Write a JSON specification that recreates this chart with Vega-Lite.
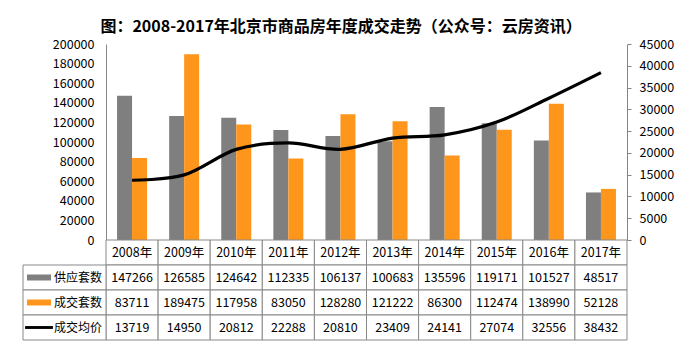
{
  "$schema": "https://vega.github.io/schema/vega-lite/v6.json",
  "background": "white",
  "padding": {"left": 22, "top": 19, "right": 5, "bottom": 2},
  "bounds": "flush",
  "spacing": 0,
  "title": {"text": "图：2008-2017年北京市商品房年度成交走势（公众号：云房资讯）", "font": "Noto Sans CJK SC", "fontSize": 16, "fontWeight": "bold", "color": "#000000", "anchor": "middle", "offset": 3, "dx": -7},
  "config": {"view": {"stroke": null}, "font": "Noto Sans CJK SC"},
  "data": {"values": [
    {"year": "2008年", "series": "供应套数", "value": 147266},
    {"year": "2009年", "series": "供应套数", "value": 126585},
    {"year": "2010年", "series": "供应套数", "value": 124642},
    {"year": "2011年", "series": "供应套数", "value": 112335},
    {"year": "2012年", "series": "供应套数", "value": 106137},
    {"year": "2013年", "series": "供应套数", "value": 100683},
    {"year": "2014年", "series": "供应套数", "value": 135596},
    {"year": "2015年", "series": "供应套数", "value": 119171},
    {"year": "2016年", "series": "供应套数", "value": 101527},
    {"year": "2017年", "series": "供应套数", "value": 48517},
    {"year": "2008年", "series": "成交套数", "value": 83711},
    {"year": "2009年", "series": "成交套数", "value": 189475},
    {"year": "2010年", "series": "成交套数", "value": 117958},
    {"year": "2011年", "series": "成交套数", "value": 83050},
    {"year": "2012年", "series": "成交套数", "value": 128280},
    {"year": "2013年", "series": "成交套数", "value": 121222},
    {"year": "2014年", "series": "成交套数", "value": 86300},
    {"year": "2015年", "series": "成交套数", "value": 112474},
    {"year": "2016年", "series": "成交套数", "value": 138990},
    {"year": "2017年", "series": "成交套数", "value": 52128},
    {"year": "2008年", "series": "成交均价", "value": 13719},
    {"year": "2009年", "series": "成交均价", "value": 14950},
    {"year": "2010年", "series": "成交均价", "value": 20812},
    {"year": "2011年", "series": "成交均价", "value": 22288},
    {"year": "2012年", "series": "成交均价", "value": 20810},
    {"year": "2013年", "series": "成交均价", "value": 23409},
    {"year": "2014年", "series": "成交均价", "value": 24141},
    {"year": "2015年", "series": "成交均价", "value": 27074},
    {"year": "2016年", "series": "成交均价", "value": 32556},
    {"year": "2017年", "series": "成交均价", "value": 38432}
  ]},
  "vconcat": [
    {
      "width": 521,
      "height": 196,
      "layer": [
        {
          "transform": [{"filter": "datum.series !== '成交均价'"}],
          "mark": {"type": "bar"},
          "encoding": {
            "x": {"field": "year", "type": "nominal", "sort": null, "scale": {"paddingInner": 0, "paddingOuter": 0}, "axis": null},
            "xOffset": {"field": "series", "type": "nominal", "scale": {"domain": ["供应套数", "成交套数"], "paddingInner": 0, "paddingOuter": 0.737}},
            "y": {"field": "value", "type": "quantitative", "scale": {"domain": [0, 200000], "nice": false},
              "axis": {"orient": "left", "values": [0, 20000, 40000, 60000, 80000, 100000, 120000, 140000, 160000, 180000, 200000], "format": "d", "grid": false, "ticks": false, "labelPadding": 12, "labelFontSize": 12.5, "labelColor": "#000000", "domainColor": "#868686", "title": null, "labelFont": "Noto Sans CJK SC"}},
            "color": {"field": "series", "type": "nominal", "scale": {"domain": ["供应套数", "成交套数", "成交均价"], "range": ["#7f7f7f", "#ff961c", "#000000"]}, "legend": null}
          }
        },
        {
          "transform": [{"filter": "datum.series === '成交均价'"}],
          "mark": {"type": "line", "interpolate": "cardinal", "strokeWidth": 3.2, "color": "#000000"},
          "encoding": {
            "x": {"field": "year", "type": "nominal", "sort": null, "axis": null},
            "y": {"field": "value", "type": "quantitative", "scale": {"domain": [0, 45000], "nice": false},
              "axis": {"orient": "right", "values": [0, 5000, 10000, 15000, 20000, 25000, 30000, 35000, 40000, 45000], "format": "d", "grid": false, "ticks": true, "tickSize": 4, "tickColor": "#868686", "labelPadding": 8, "labelFontSize": 12.5, "labelColor": "#000000", "domainColor": "#868686", "title": null, "labelFont": "Noto Sans CJK SC"}}
          }
        }
      ],
      "resolve": {"scale": {"y": "independent"}}
    },
    {
      "width": 521,
      "height": 100,
      "encoding": {
        "y": {"field": "series", "type": "nominal", "scale": {"domain": ["header", "供应套数", "成交套数", "成交均价"], "paddingInner": 0, "paddingOuter": 0}, "axis": null}
      },
      "layer": [
        {
          "transform": [{"filter": "datum.series === '成交均价'"}],
          "mark": {"type": "rect", "fill": "white", "stroke": "#898989", "strokeWidth": 1},
          "encoding": {
            "x": {"field": "year", "type": "nominal", "sort": null, "scale": {"paddingInner": 0, "paddingOuter": 0}, "axis": null},
            "y": {"datum": "header", "type": "nominal"}
          }
        },
        {
          "mark": {"type": "rect", "fill": "white", "stroke": "#898989", "strokeWidth": 1},
          "encoding": {
            "x": {"field": "year", "type": "nominal", "sort": null, "scale": {"paddingInner": 0, "paddingOuter": 0}, "axis": null}
          }
        },
        {
          "transform": [{"filter": "datum.series === '成交均价'"}],
          "mark": {"type": "text", "fontSize": 12.5, "color": "#000000", "baseline": "middle", "align": "center"},
          "encoding": {
            "x": {"field": "year", "type": "nominal", "sort": null, "scale": {"paddingInner": 0, "paddingOuter": 0}, "axis": null},
            "y": {"datum": "header", "type": "nominal"},
            "text": {"field": "year", "type": "nominal"}
          }
        },
        {
          "mark": {"type": "text", "fontSize": 12.5, "color": "#000000", "baseline": "middle", "align": "center"},
          "encoding": {
            "x": {"field": "year", "type": "nominal", "sort": null, "scale": {"paddingInner": 0, "paddingOuter": 0}, "axis": null},
            "text": {"field": "value", "type": "quantitative", "format": "d"}
          }
        },
        {
          "transform": [{"filter": "datum.year === '2008年'"}],
          "mark": {"type": "rect", "fill": "white", "stroke": "#898989", "strokeWidth": 1},
          "encoding": {
            "x": {"datum": "label", "type": "nominal", "scale": {"domain": ["label"], "range": [-83, 0], "paddingInner": 0, "paddingOuter": 0}, "axis": null}
          }
        },
        {
          "transform": [{"filter": "datum.year === '2008年'"}],
          "mark": {"type": "point", "filled": true, "opacity": 1, "size": 576, "strokeWidth": 0},
          "encoding": {
            "x": {"datum": "sym", "type": "nominal", "scale": {"type": "point", "domain": ["sym", "txt"], "range": [-67, -52], "padding": 0}, "axis": null},
            "shape": {"field": "series", "type": "nominal", "scale": {"domain": ["供应套数", "成交套数", "成交均价"], "range": ["M-1,-0.25H1V0.25H-1Z", "M-1,-0.25H1V0.25H-1Z", "M-1.16,-0.12H1.16V0.12H-1.16Z"]}, "legend": null},
            "color": {"field": "series", "type": "nominal", "scale": {"domain": ["供应套数", "成交套数", "成交均价"], "range": ["#7f7f7f", "#ff961c", "#000000"]}, "legend": null}
          }
        },
        {
          "transform": [{"filter": "datum.year === '2008年'"}],
          "mark": {"type": "text", "fontSize": 12, "color": "#000000", "baseline": "middle", "align": "left"},
          "encoding": {
            "x": {"datum": "txt", "type": "nominal", "scale": {"type": "point", "domain": ["sym", "txt"], "range": [-67, -52], "padding": 0}, "axis": null},
            "text": {"field": "series", "type": "nominal"}
          }
        }
      ],
      "resolve": {"scale": {"x": "independent"}}
    }
  ]
}
